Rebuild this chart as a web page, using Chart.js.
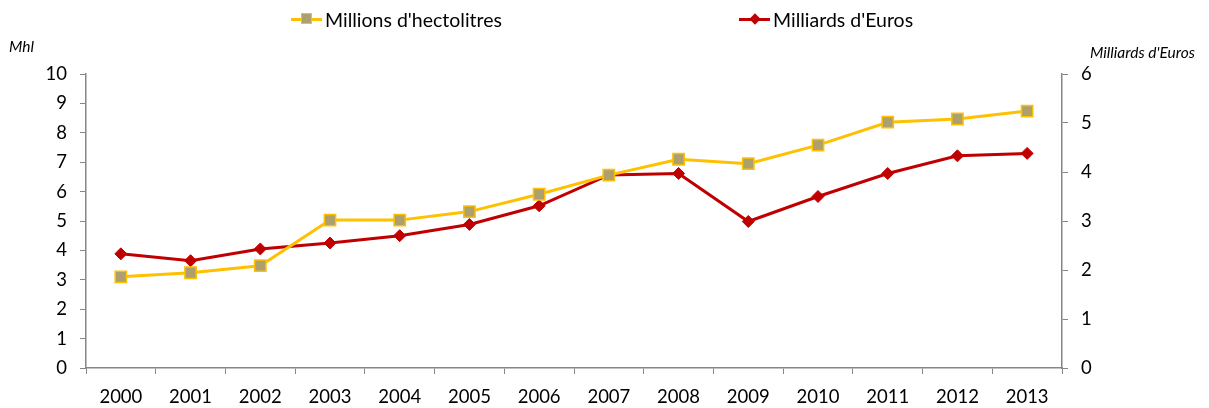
<!DOCTYPE html>
<html lang="fr">
<head>
    <meta charset="UTF-8">
    <title>Mhl et Milliards d'Euros</title>
    <style>
        body {
            margin: 0;
            padding: 0;
            background-color: #fff;
            font-family: Lato, "Open Sans", sans-serif;
        }

        .chart-wrap {
            position: relative;
            width: 1209px;
            height: 408px;
        }

        .legend {
            position: absolute;
            top: 7px;
            left: 0;
            width: 1209px;
            height: 24px;
            font-size: 19.5px;
            color: #000;
        }

        .legend-item {
            position: absolute;
            top: 0;
            display: flex;
            align-items: center;
            height: 24px;
        }

        .legend-line {
            position: relative;
            width: 31px;
            height: 3px;
            margin-right: 3px;
        }

        .legend-line span {
            position: absolute;
            left: 50%;
            top: 50%;
        }

        .axis-title {
            position: absolute;
            font-style: italic;
            font-size: 15.5px;
            color: #000;
        }
    </style>
</head>
<body>

<div class="chart-wrap">
    <canvas id="vinChart"></canvas>
    <div class="legend">
        <div class="legend-item" style="left: 291px;">
            <div class="legend-line" style="background: #FFC000;">
                <span style="width: 9px; height: 9px; margin: -6px 0 0 -6px; background: #ADA06C; border: 1.5px solid #FFC000;"></span>
            </div>
            <div>Millions d'hectolitres</div>
        </div>
        <div class="legend-item" style="left: 739px;">
            <div class="legend-line" style="background: #C00000;">
                <span style="width: 8px; height: 8px; margin: -4px 0 0 -4px; background: #C00000; transform: rotate(45deg);"></span>
            </div>
            <div>Milliards d'Euros</div>
        </div>
    </div>
    <div class="axis-title" style="left: 9px; top: 37px;">Mhl</div>
    <div class="axis-title" style="left: 1090px; top: 43px;">Milliards d'Euros</div>
</div>

<script src="https://cdn.jsdelivr.net/npm/chart.js"></script>

<script>
    // data
    const years = ['2000', '2001', '2002', '2003', '2004', '2005', '2006',
                   '2007', '2008', '2009', '2010', '2011', '2012', '2013'];
    const millionsHl = [3.1, 3.24, 3.48, 5.03, 5.03, 5.32, 5.91, 6.56, 7.1, 6.95, 7.58, 8.36, 8.47, 8.74];
    const milliardsEuros = [2.33, 2.19, 2.43, 2.55, 2.70, 2.93, 3.31, 3.94, 3.97, 2.99, 3.50, 3.97, 4.33, 4.38];

    const axisGrey = '#868686';
    const tickFont = { family: 'Lato', size: 18.5 };

    const ctx = document.getElementById('vinChart').getContext('2d');
    const chart = new Chart(ctx, {
        type: 'line',
        data: {
            labels: years,
            datasets: [
                {
                    label: "Millions d'hectolitres",
                    data: millionsHl,
                    yAxisID: 'y',
                    borderColor: '#FFC000',
                    borderWidth: 3,
                    pointStyle: 'rect',
                    pointRadius: 8,
                    pointBackgroundColor: '#ADA06C',
                    pointBorderColor: '#FFC000',
                    pointBorderWidth: 1.5,
                    tension: 0,
                    fill: false,
                },
                {
                    label: "Milliards d'Euros",
                    data: milliardsEuros,
                    yAxisID: 'y1',
                    borderColor: '#C00000',
                    borderWidth: 3,
                    pointStyle: 'rectRot',
                    pointRadius: 6,
                    pointBackgroundColor: '#C00000',
                    pointBorderColor: '#C00000',
                    pointBorderWidth: 1,
                    tension: 0,
                    fill: false,
                },
            ],
        },
        options: {
            responsive: true,
            maintainAspectRatio: false,
            animation: false,
            layout: {
                padding: { top: 74, left: 0, right: 0, bottom: 0 },
            },
            plugins: {
                legend: { display: false },
                tooltip: { enabled: false },
            },
            scales: {
                x: {
                    offset: true,
                    grid: {
                        offset: true,
                        drawOnChartArea: false,
                        tickLength: 6,
                        color: axisGrey,
                    },
                    border: { color: axisGrey, width: 1.5 },
                    ticks: { color: '#000', font: tickFont, padding: 12, maxRotation: 0 },
                    afterFit: (scale) => { scale.height = 40; },
                },
                y: {
                    position: 'left',
                    min: 0,
                    max: 10,
                    ticks: { stepSize: 1, color: '#000', font: tickFont, padding: 13 },
                    grid: { drawOnChartArea: false, tickLength: 6, color: axisGrey },
                    border: { color: axisGrey, width: 1.5 },
                    afterFit: (scale) => { scale.width = 86; },
                },
                y1: {
                    position: 'right',
                    min: 0,
                    max: 6,
                    ticks: { stepSize: 1, color: '#000', font: tickFont, padding: 13 },
                    grid: { drawOnChartArea: false, tickLength: 6, color: axisGrey },
                    border: { color: axisGrey, width: 1.5 },
                    afterFit: (scale) => { scale.width = 147; },
                },
            },
        },
    });
</script>

</body>
</html>
